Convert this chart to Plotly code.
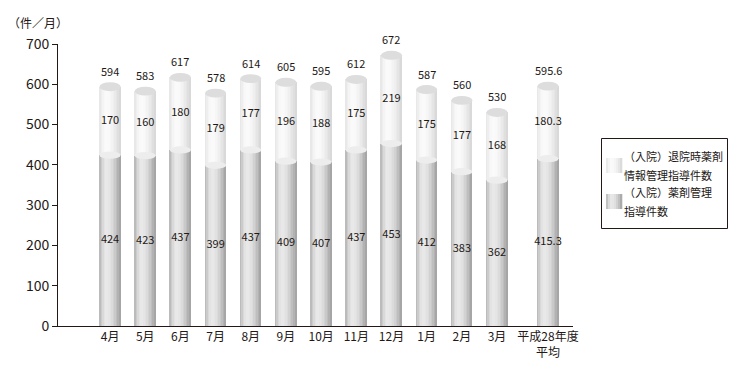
import math
import plotly.graph_objects as go

categories = ["4月", "5月", "6月", "7月", "8月", "9月", "10月", "11月", "12月",
              "1月", "2月", "3月", "平成28年度<br>平均"]
inpatient = [424, 423, 437, 399, 437, 409, 407, 437, 453, 412, 383, 362, 415.3]
discharge = [170, 160, 180, 179, 177, 196, 188, 175, 219, 175, 177, 168, 180.3]
totals = [594, 583, 617, 578, 614, 605, 595, 612, 672, 587, 560, 530, 595.6]
legend_discharge = ["（入院）退院時薬剤", "情報管理指導件数"]
legend_inpatient = ["（入院）薬剤管理", "指導件数"]
y_ticks = [0, 100, 200, 300, 400, 500, 600, 700]

# positions: months evenly spaced, the yearly average set a bit apart
xs = [float(i) for i in range(12)] + [12.45]
BW = 0.6
N = 14
TXT = "#231815"

W, H = 730, 383
ML, MR, MT, MB = 58, 157, 44, 57
PW, PH = W - ML - MR, H - MT - MB


def px(x):
    return (x - ML) / PW


def py(y):
    return (H - MB - y) / PH


def grad(t, left, peak, right, p=0.35):
    if t < p:
        v = left + (peak - left) * math.sin(math.pi / 2 * t / p)
    else:
        v = right + (peak - right) * math.cos(math.pi / 2 * (t - p) / (1 - p))
    v = int(round(v))
    return f"rgb({v},{v},{v})"


IN_GRAD = (178, 232, 160)
DIS_GRAD = (228, 250, 214)

fig = go.Figure()

for i in range(N):
    t = (i + 0.5) / N
    off = -BW / 2 + i * BW / N
    w = BW / N * 1.25 if i < N - 1 else BW / N
    fig.add_trace(go.Bar(
        x=xs, y=inpatient, width=w, offset=off,
        marker=dict(color=grad(t, *IN_GRAD), line=dict(width=0)),
        showlegend=False, hoverinfo="skip"))
    fig.add_trace(go.Bar(
        x=xs, y=discharge, base=inpatient, width=w, offset=off,
        marker=dict(color=grad(t, *DIS_GRAD), line=dict(width=0)),
        showlegend=False, hoverinfo="skip"))

fmt = lambda v: f"{v:g}"
common = dict(mode="text", textposition="middle center",
              textfont=dict(size=11, color=TXT), showlegend=False,
              hoverinfo="skip", cliponaxis=False)
fig.add_trace(go.Scatter(x=xs, y=[v / 2 for v in inpatient],
                         text=[fmt(v) for v in inpatient], **common))
fig.add_trace(go.Scatter(x=xs, y=[a + b / 2 for a, b in zip(inpatient, discharge)],
                         text=[fmt(v) for v in discharge], **common))

annotations = []
for x, tot in zip(xs, totals):
    annotations.append(dict(text=fmt(tot), xref="x", yref="y", x=x, y=tot,
                            yshift=16, xanchor="center", yanchor="middle",
                            showarrow=False, font=dict(size=11, color=TXT)))

shapes = []
for x, a, tot in zip(xs, inpatient, totals):
    shapes.append(dict(type="circle", xref="x", yref="y",
                       x0=x - BW / 2, x1=x + BW / 2, y0=a - 9, y1=a + 9,
                       fillcolor="#ededed", line=dict(width=0), layer="above"))
    shapes.append(dict(type="circle", xref="x", yref="y",
                       x0=x - BW / 2, x1=x + BW / 2, y0=tot - 11, y1=tot + 11,
                       fillcolor="#dddddd", line=dict(width=0), layer="above"))

# custom legend (box, gradient swatches, text)
shapes.append(dict(type="rect", xref="paper", yref="paper",
                   x0=px(601.5), x1=px(727.5), y0=py(228.5), y1=py(138.5),
                   line=dict(color=TXT, width=1), fillcolor="white"))
for (top, lines, g) in [(158, legend_discharge, DIS_GRAD),
                        (194, legend_inpatient, IN_GRAD)]:
    n = 8
    for k in range(n):
        t = (k + 0.5) / n
        shapes.append(dict(type="rect", xref="paper", yref="paper",
                           x0=px(606 + 16 * k / n), x1=px(606 + 16 * (k + 1) / n + 0.3),
                           y0=py(top + 15), y1=py(top),
                           fillcolor=grad(t, *g), line=dict(width=0)))
    center = top + 7.5
    for j, line in enumerate(lines):
        annotations.append(dict(text=line, xref="paper", yref="paper",
                                x=px(622), y=py(center - 9.5 + 19 * j),
                                xanchor="left", yanchor="middle", showarrow=False,
                                font=dict(size=11, color=TXT)))

annotations.append(dict(text="（件／月）", xref="paper", yref="paper",
                        x=px(6), y=py(23), xanchor="left", yanchor="middle",
                        showarrow=False, font=dict(size=12, color=TXT)))

fig.update_layout(
    width=W, height=H,
    margin=dict(l=ML, r=MR, t=MT, b=MB),
    paper_bgcolor="white", plot_bgcolor="white",
    barmode="overlay", bargap=0,
    font=dict(family="Noto Sans CJK JP", color=TXT),
    shapes=shapes, annotations=annotations,
    showlegend=False,
    xaxis=dict(range=[-1.48, 13.16], tickmode="array", tickvals=xs,
               ticktext=categories, showline=True, linecolor=TXT,
               linewidth=1, ticks="", showgrid=False, zeroline=False,
               tickfont=dict(size=12, color=TXT)),
    yaxis=dict(range=[0, 700], tickmode="array", tickvals=y_ticks,
               showline=True, linecolor=TXT, linewidth=1,
               ticks="outside", ticklen=5, tickcolor=TXT,
               showgrid=False, zeroline=False,
               tickfont=dict(size=14, color=TXT)),
)

fig.write_html("out.html")
